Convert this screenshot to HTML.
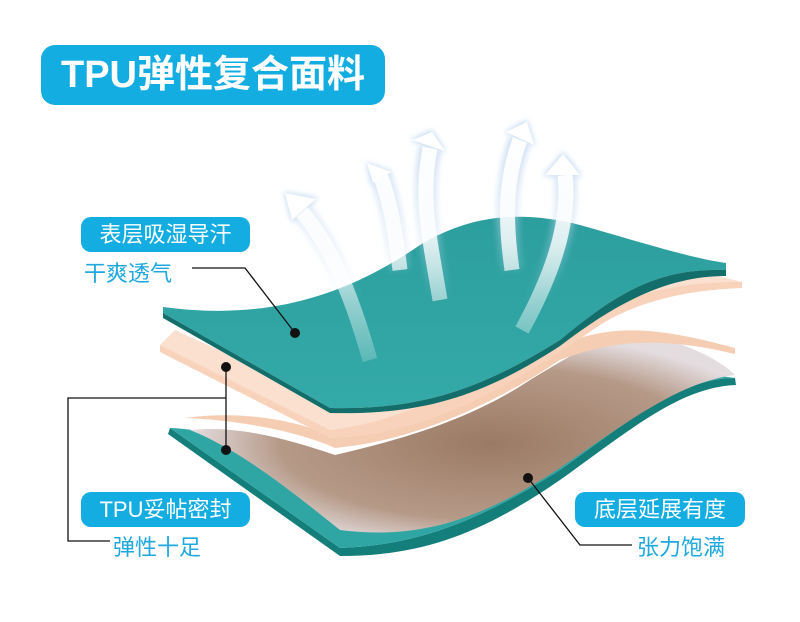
<!DOCTYPE html>
<html><head><meta charset="utf-8"><style>
body{margin:0;width:800px;height:622px;background:#fff;position:relative;overflow:hidden;font-family:"Liberation Sans","Noto Sans CJK SC",sans-serif}
.box{position:absolute;background:#14ade2;color:#fff;border-radius:10px;text-align:center;white-space:nowrap}
.sub{position:absolute;color:#1fa8df;font-size:22px;white-space:nowrap}
svg{position:absolute;left:0;top:0}
</style></head><body>
<svg width="800" height="622" viewBox="0 0 800 622">
<defs>
<linearGradient id="tl" x1="0" y1="0" x2="0" y2="1"><stop offset="0" stop-color="#2c9e9e"/><stop offset="1" stop-color="#34aaa8"/></linearGradient>
<radialGradient id="br" cx="0.55" cy="0.55" r="0.55"><stop offset="0" stop-color="#9a7a64"/><stop offset="0.7" stop-color="#b69a88"/><stop offset="1" stop-color="#e4dde0"/></radialGradient>
<linearGradient id="aw" gradientUnits="userSpaceOnUse" x1="0" y1="130" x2="0" y2="380"><stop offset="0" stop-color="#fff" stop-opacity="1"/><stop offset="0.45" stop-color="#fff" stop-opacity="0.8"/><stop offset="1" stop-color="#fff" stop-opacity="0.1"/></linearGradient>
<linearGradient id="ab" gradientUnits="userSpaceOnUse" x1="0" y1="130" x2="0" y2="300"><stop offset="0" stop-color="#c3d9f0" stop-opacity="0.9"/><stop offset="1" stop-color="#c3d9f0" stop-opacity="0"/></linearGradient>
<filter id="bl" x="-50%" y="-50%" width="200%" height="200%"><feGaussianBlur stdDeviation="3"/></filter>
</defs>
<path d="M170 428 L340 548 C420 545 480 520 560 470 C630 420 680 378 735 378 L736 385 C680 387 630 430 560 480 C480 535 420 556 340 556 L168 434 Z" fill="#137e7a"/>
<path d="M170 428 L340 548 C420 545 480 520 560 470 C630 420 680 378 735 378 C690 372 660 366 640 360 C560 410 460 470 340 520 C290 470 240 430 170 428 Z" fill="#2fa6a4"/>
<path d="M190 430 C240 425 290 440 335 455 C400 440 470 420 530 380 C580 350 610 330 650 335 C690 345 720 360 735 375 C680 382 630 420 560 468 C480 520 420 540 340 530 C290 490 240 450 190 430 Z" fill="url(#br)"/>
<path d="M185 418 C240 410 300 420 335 438 C420 425 500 390 560 345 C610 325 650 325 735 348 L735 354 C650 333 600 345 560 360 C500 400 420 440 335 448 C300 432 240 420 185 418 Z" fill="#f5cdb3"/>
<path d="M160 345 L330 428 C420 420 520 360 600 310 C650 285 700 280 742 282 L742 288 C690 290 640 300 600 325 C520 380 430 436 330 438 L160 352 Z" fill="#f8d2bb"/>
<path d="M160 345 L330 430 C420 420 520 360 600 312 C650 286 700 282 742 282 C720 276 700 272 680 270 C600 300 460 380 340 405 L175 330 Z" fill="#fbe0cf"/>
<path d="M163 307 C260 320 340 300 420 245 C470 215 520 210 580 225 C640 242 690 258 726 263 L726 270 C660 268 620 290 560 340 C480 390 420 410 330 408 L163 313 Z" fill="url(#tl)"/>
<path d="M163 313 L330 408 C420 410 480 390 560 340 C620 290 660 268 726 270 L726 276 C670 276 620 300 560 346 C480 398 420 415 330 413 L163 318 Z" fill="#136e6b"/>
<!-- arrows -->
<g fill="none" stroke="url(#ab)" stroke-width="22" filter="url(#bl)">
<path d="M370 360 C350 290 330 245 302 212"/>
<path d="M400 270 C395 230 390 200 380 175"/>
<path d="M440 300 C430 240 420 200 430 148"/>
<path d="M512 270 C505 220 505 180 520 140"/>
<path d="M522 330 C555 270 570 220 565 175"/>
</g>
<g fill="#c3d9f0" filter="url(#bl)">
<polygon points="284,192 318,198 292,222"/>
<polygon points="366,162 392,172 372,184"/>
<polygon points="410,140 446,152 432,130"/>
<polygon points="505,132 535,146 527,120"/>
<polygon points="543,176 582,176 563,152"/>
</g>
<g fill="none" stroke="url(#aw)" stroke-width="15">
<path d="M370 360 C350 290 330 245 302 212"/>
<path d="M400 270 C395 230 390 200 380 175"/>
<path d="M440 300 C430 240 420 200 430 148"/>
<path d="M512 270 C505 220 505 180 520 140"/>
<path d="M522 330 C555 270 570 220 565 175"/>
</g>
<g fill="#fff">
<polygon points="285,193 316,199 292,220"/>
<polygon points="367,163 391,172 373,183"/>
<polygon points="412,140 445,151 432,132"/>
<polygon points="506,132 534,145 527,122"/>
<polygon points="545,175 580,175 563,154"/>
</g>
<g stroke="#111" stroke-width="1.3" fill="none">
<polyline points="192,268 245,268 295,333"/>
<polyline points="110,541 68,541 68,398 226,398"/>
<line x1="226" y1="367" x2="226" y2="450"/>
<polyline points="528,478 580,545 632,545"/>
</g>
<g fill="#111"><circle cx="295" cy="333" r="5"/><circle cx="226" cy="367" r="5"/><circle cx="226" cy="450" r="5"/><circle cx="528" cy="478" r="5"/></g>
</svg>
<div class="box" style="left:41px;top:45px;width:344px;height:60px;line-height:60px;font-size:38px;font-weight:bold;border-radius:14px">TPU弹性复合面料</div>
<div class="box" style="left:81px;top:217px;width:169px;height:35px;line-height:35px;font-size:22px">表层吸湿导汗</div>
<div class="sub" style="left:84px;top:256px">干爽透气</div>
<div class="box" style="left:81px;top:492px;width:169px;height:35px;line-height:35px;font-size:22px">TPU妥帖密封</div>
<div class="sub" style="left:113px;top:530px">弹性十足</div>
<div class="box" style="left:575px;top:492px;width:170px;height:35px;line-height:35px;font-size:22px">底层延展有度</div>
<div class="sub" style="left:637px;top:530px">张力饱满</div>
</body></html>
